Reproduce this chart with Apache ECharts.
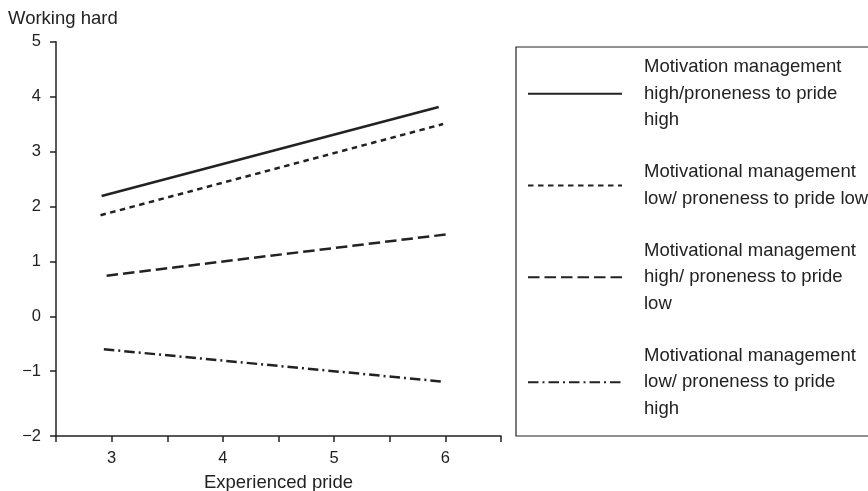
<!DOCTYPE html>
<html>
<head>
<meta charset="utf-8">
<script src="https://cdn.jsdelivr.net/npm/echarts@6/dist/echarts.min.js"></script>
<style>
html,body{margin:0;padding:0;background:#fff;}
#chart{width:868px;height:491px;}
</style>
</head>
<body>
<div id="chart"></div>
<script>
// ---- data ----
const yAxisTitle = 'Working hard';
const xAxisTitle = 'Experienced pride';
const xMin = 2.5, xMax = 6.5, xStep = 0.5;
const xTickLabels = ['3', '4', '5', '6'];
const yMin = -2.18, yMax = 5;
const yTickValues = [-2.18, -1, 0, 1, 2, 3, 4, 5];
const yTickLabels = ['\u22122', '\u22121', '0', '1', '2', '3', '4', '5'];

const seriesNames = [
  'Motivation management\nhigh/proneness to pride\nhigh',
  'Motivational management\nlow/ proneness to pride low',
  'Motivational management\nhigh/ proneness to pride\nlow',
  'Motivational management\nlow/ proneness to pride\nhigh'
];
const mmHighPrideHigh = [[2.91, 2.19], [5.94, 3.81]];
const mmLowPrideLow   = [[2.90, 1.84], [5.98, 3.50]];
const mmHighPrideLow  = [[2.955, 0.74], [6.045, 1.50]];
const mmLowPrideHigh  = [[2.93, -0.60], [5.98, -1.19]];

const ink = '#222';
const font = '"Liberation Sans", Arial, Helvetica, sans-serif';

function lineSeries(name, data, type) {
  return {
    name: name, type: 'line', data: data, symbol: 'none', silent: true,
    lineStyle: { color: ink, width: 2.5, type: type, cap: 'butt' },
    itemStyle: { color: ink }
  };
}

const chart = echarts.init(document.getElementById('chart'), null, { renderer: 'canvas' });
chart.setOption({
  animation: false,
  textStyle: { fontFamily: font, color: ink },
  title: {
    text: yAxisTitle, left: 8, top: 9, padding: 0,
    textStyle: { fontFamily: font, fontSize: 18.5, fontWeight: 'normal', color: ink }
  },
  grid: { left: 56, top: 41.7, width: 445, height: 394.3, containLabel: false, outerBoundsMode: 'none' },
  xAxis: {
    type: 'value', min: xMin, max: xMax, interval: xStep,
    name: xAxisTitle, nameLocation: 'middle', nameGap: 37,
    nameTextStyle: { fontSize: 18.5, color: ink, fontFamily: font },
    axisLine: { show: true, onZero: false, lineStyle: { color: ink, width: 1.5 } },
    axisTick: { show: true, length: 6, lineStyle: { color: ink, width: 1.5 } },
    axisLabel: {
      fontSize: 16.5, color: ink, margin: 14, fontFamily: font,
      formatter: function (v) {
        const s = String(v);
        return xTickLabels.indexOf(s) >= 0 ? s : '';
      }
    },
    splitLine: { show: false }
  },
  yAxis: {
    type: 'value', min: yMin, max: yMax,
    axisLine: { show: true, onZero: false, lineStyle: { color: ink, width: 1.5 } },
    axisTick: { show: true, length: 6, customValues: yTickValues, lineStyle: { color: ink, width: 1.5 } },
    axisLabel: {
      fontSize: 16.5, color: ink, margin: 15, fontFamily: font,
      customValues: yTickValues,
      formatter: function (v) {
        const i = yTickValues.indexOf(v);
        return i >= 0 ? yTickLabels[i] : '';
      }
    },
    splitLine: { show: false }
  },
  legend: {
    orient: 'vertical', left: 516, top: 47,
    padding: [7, 11, 14, 11],
    borderColor: ink, borderWidth: 1.2,
    itemWidth: 94, itemHeight: 14, itemGap: 25.5,
    itemStyle: { opacity: 0 },
    selectedMode: false,
    textStyle: { fontSize: 18.5, lineHeight: 26.5, color: ink, fontFamily: font, padding: [0, 0, 0, 17] },
    data: seriesNames
  },
  series: [
    lineSeries(seriesNames[0], mmHighPrideHigh, 'solid'),
    lineSeries(seriesNames[1], mmLowPrideLow, [5.5, 4.5]),
    lineSeries(seriesNames[2], mmHighPrideLow, [11.5, 5]),
    lineSeries(seriesNames[3], mmLowPrideHigh, [10.5, 4, 2, 4])
  ]
});
</script>
</body>
</html>
